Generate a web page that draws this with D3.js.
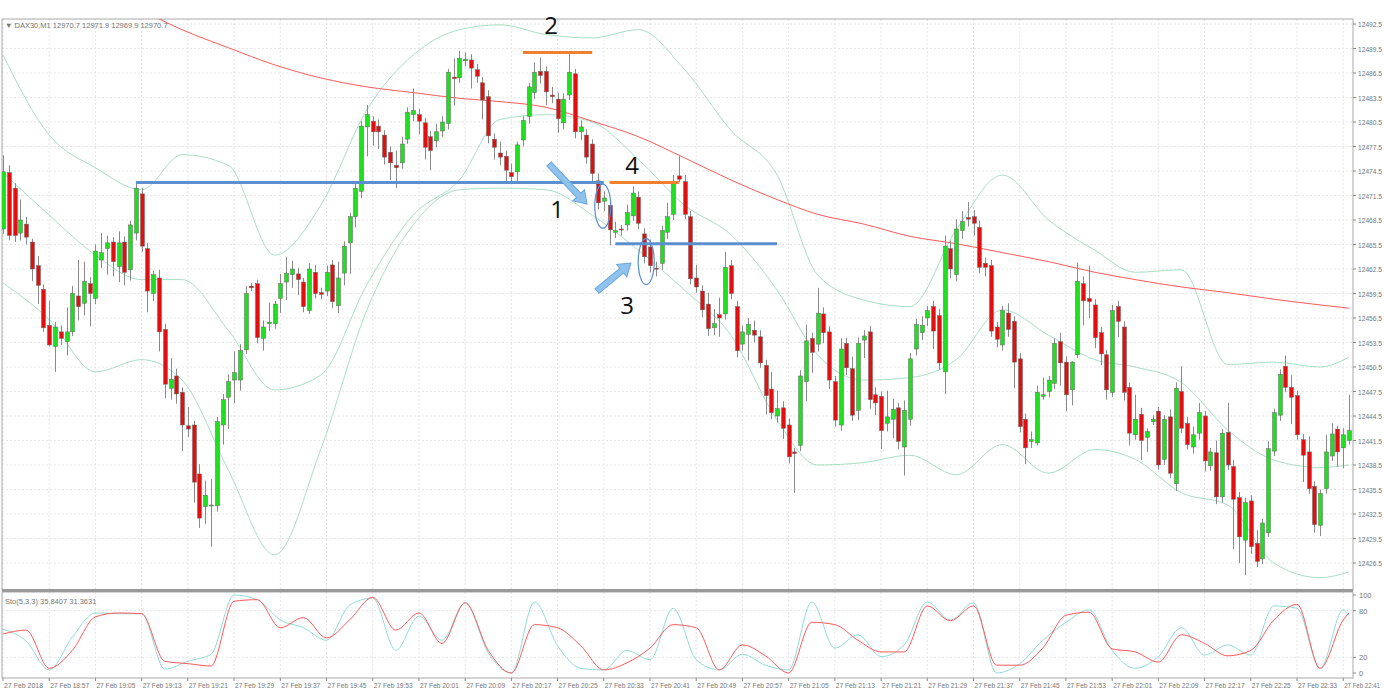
<!DOCTYPE html>
<html><head><meta charset="utf-8">
<script src="https://cdn.jsdelivr.net/npm/d3@7"></script>
<style>
body{margin:0;background:#fff;font-family:"Liberation Sans",Arial,sans-serif;}
.lbl{font-size:7.5px;fill:#777;font-family:"Liberation Sans",Arial,sans-serif;}
.note{font-family:"Open Sans",Calibri,sans-serif;font-size:24px;fill:#111;}
</style></head><body>
<svg id="c" width="1384" height="694"></svg>
<script>
// one-minute candles, 18:49 .. 22:42, [open, high, low, close]
const ohlc = [
[12467.4,12476.4,12466.8,12474.4],[12474.3,12475.2,12466.0,12466.6],[12472.4,12473.0,12465.8,12466.6],[12466.9,12471.0,12466.0,12468.5],
[12468.0,12468.9,12465.5,12466.4],[12465.8,12466.2,12461.0,12462.5],[12462.9,12464.1,12458.2,12460.5],[12460.0,12460.6,12454.8,12455.3],
[12455.6,12458.6,12453.0,12453.2],[12453.0,12456.0,12449.9,12455.4],[12454.8,12455.6,12453.2,12454.0],[12453.6,12457.8,12451.9,12454.8],
[12454.8,12460.4,12454.3,12459.5],[12459.2,12463.6,12456.2,12457.9],[12458.3,12463.4,12456.8,12461.0],[12460.7,12461.5,12455.5,12459.5],
[12458.9,12465.5,12458.2,12464.7],[12463.6,12466.9,12462.6,12464.5],[12465.0,12466.6,12461.8,12465.7],[12465.8,12466.4,12461.6,12463.4],
[12462.8,12467.1,12460.9,12465.7],[12465.8,12466.5,12460.5,12462.1],[12462.4,12468.4,12461.1,12467.9],[12466.9,12473.1,12466.0,12472.4],
[12471.7,12472.4,12464.6,12465.3],[12465.0,12465.7,12457.2,12459.8],[12459.5,12462.3,12458.6,12461.8],[12461.4,12462.4,12452.4,12454.8],
[12455.1,12455.8,12446.7,12448.4],[12447.9,12451.6,12446.5,12449.0],[12449.4,12450.3,12446.0,12447.2],[12447.4,12448.0,12440.2,12443.4],
[12443.3,12445.6,12441.9,12442.9],[12443.4,12443.9,12433.9,12436.4],[12437.4,12438.6,12430.8,12432.0],[12433.4,12436.6,12431.3,12434.8],
[12433.6,12436.8,12428.5,12433.6],[12433.5,12444.4,12432.8,12443.8],[12443.4,12447.2,12441.0,12446.5],[12446.8,12449.6,12442.9,12448.7],
[12448.9,12452.4,12446.1,12449.8],[12448.9,12453.3,12447.6,12452.5],[12452.6,12460.4,12452.1,12459.5],[12460.4,12460.8,12459.8,12460.2],
[12460.7,12461.2,12453.4,12454.1],[12454.0,12456.2,12452.5,12455.4],[12455.8,12458.4,12454.9,12456.0],[12455.8,12458.6,12455.2,12458.2],
[12458.9,12461.9,12457.1,12460.7],[12460.9,12464.0,12458.7,12462.0],[12461.8,12463.5,12460.2,12462.5],[12461.9,12462.6,12459.3,12461.2],
[12460.9,12461.4,12457.2,12457.9],[12457.4,12463.2,12457.0,12462.5],[12462.1,12463.0,12458.9,12459.5],[12459.6,12460.2,12458.8,12459.4],
[12459.8,12462.9,12459.2,12462.1],[12463.0,12463.6,12457.7,12458.5],[12458.0,12463.4,12457.1,12461.4],[12462.0,12465.9,12460.5,12465.3],
[12465.7,12469.4,12461.9,12468.9],[12468.9,12473.0,12467.6,12472.4],[12472.0,12480.6,12471.2,12480.0],[12479.9,12482.6,12476.3,12481.4],
[12480.6,12481.2,12477.6,12479.3],[12480.0,12480.8,12477.2,12479.3],[12478.9,12479.5,12475.3,12476.2],[12476.8,12477.5,12473.4,12475.5],
[12475.2,12477.0,12472.4,12474.9],[12475.5,12478.7,12474.8,12477.8],[12478.4,12482.3,12477.8,12481.7],[12481.4,12484.6,12480.6,12481.9],
[12481.4,12482.1,12479.0,12480.6],[12480.4,12481.0,12475.9,12477.4],[12478.7,12479.4,12474.6,12477.0],[12478.2,12480.3,12477.4,12479.3],
[12479.4,12481.2,12478.7,12480.5],[12480.3,12487.0,12479.6,12486.6],[12486.0,12488.3,12482.5,12485.8],[12485.9,12489.2,12485.3,12488.3],
[12488.0,12489.0,12487.3,12488.2],[12488.1,12488.8,12484.6,12487.1],[12486.9,12487.6,12485.3,12486.1],[12485.3,12486.0,12480.8,12483.2],
[12483.6,12484.4,12477.9,12478.8],[12478.4,12479.1,12475.9,12477.4],[12476.7,12478.1,12475.2,12476.2],[12476.3,12477.0,12473.0,12474.6],
[12474.3,12475.4,12473.0,12473.8],[12474.4,12478.1,12473.2,12477.7],[12478.3,12481.2,12477.5,12480.7],[12481.2,12485.3,12480.3,12484.8],
[12484.1,12487.8,12483.3,12486.6],[12486.7,12488.4,12485.2,12486.2],[12486.7,12487.3,12482.6,12484.2],[12483.8,12484.8,12482.8,12483.6],
[12483.3,12484.1,12479.2,12480.9],[12480.4,12484.0,12479.6,12483.3],[12483.8,12489.1,12483.2,12486.6],[12486.4,12487.0,12478.5,12479.3],
[12479.3,12480.7,12478.3,12479.9],[12478.9,12479.6,12475.4,12476.2],[12477.8,12478.4,12473.0,12474.2],[12473.3,12474.2,12469.8,12470.6],
[12470.8,12472.0,12469.6,12471.2],[12470.3,12471.0,12465.4,12467.3],[12467.0,12468.3,12466.3,12467.2],[12467.4,12467.9,12466.6,12467.3],
[12467.9,12470.4,12467.2,12469.4],[12469.0,12472.6,12468.4,12471.8],[12471.3,12472.0,12467.4,12468.1],[12466.8,12467.5,12463.2,12464.0],
[12465.2,12466.1,12462.1,12462.9],[12462.6,12463.4,12461.6,12462.5],[12463.2,12467.8,12462.4,12467.2],[12467.0,12470.6,12466.2,12468.9],
[12469.2,12474.0,12468.5,12473.2],[12473.9,12476.3,12473.1,12473.5],[12473.2,12474.0,12468.6,12469.2],[12468.9,12469.6,12460.6,12461.3],
[12461.4,12463.0,12459.6,12460.3],[12459.8,12460.5,12456.6,12457.5],[12458.2,12459.6,12454.3,12455.2],[12455.3,12457.6,12454.4,12455.8],
[12456.9,12459.0,12454.2,12456.5],[12457.0,12464.6,12456.3,12462.7],[12462.9,12463.6,12458.8,12459.5],[12457.9,12458.6,12451.7,12452.5],
[12453.3,12455.6,12452.5,12454.8],[12454.5,12456.5,12451.3,12455.7],[12455.0,12456.2,12453.5,12454.4],[12454.2,12455.0,12450.4,12451.0],
[12450.7,12451.4,12444.7,12447.0],[12447.8,12449.9,12444.1,12444.9],[12444.5,12447.6,12443.7,12445.4],[12445.5,12446.3,12441.7,12443.0],
[12443.4,12444.2,12438.7,12439.5],[12440.1,12440.6,12435.1,12439.9],[12440.9,12450.1,12440.2,12449.4],[12448.7,12455.7,12446.3,12453.7],
[12454.0,12454.7,12449.8,12452.3],[12453.3,12460.2,12452.4,12457.1],[12457.0,12457.8,12453.4,12454.7],[12454.8,12455.5,12447.8,12448.9],
[12448.7,12449.4,12443.2,12444.0],[12443.4,12454.0,12442.7,12452.7],[12453.4,12454.1,12449.5,12450.4],[12450.3,12451.8,12443.9,12444.6],
[12445.2,12454.1,12444.0,12453.4],[12453.8,12455.0,12451.6,12454.3],[12454.8,12455.5,12445.4,12446.5],[12447.1,12448.0,12444.6,12446.1],
[12446.9,12447.5,12440.5,12442.7],[12443.6,12447.6,12442.6,12444.4],[12444.1,12446.6,12441.8,12445.3],[12445.5,12446.1,12440.4,12441.4],
[12440.7,12446.4,12437.2,12445.2],[12444.1,12452.2,12443.3,12451.5],[12452.7,12456.4,12451.9,12455.7],[12454.7,12456.7,12453.8,12455.6],
[12456.5,12458.0,12455.5,12457.4],[12457.9,12458.6,12452.7,12454.9],[12456.8,12457.6,12450.2,12451.0],[12449.9,12466.6,12447.2,12465.3],
[12465.0,12466.0,12461.4,12462.5],[12461.8,12468.6,12461.0,12467.4],[12467.2,12469.6,12466.2,12468.3],[12468.8,12470.7,12467.7,12468.6],
[12468.9,12469.7,12466.6,12468.1],[12467.6,12468.4,12462.0,12462.7],[12463.2,12463.9,12461.6,12462.7],[12462.9,12463.6,12454.2,12454.9],
[12455.4,12456.0,12452.9,12453.9],[12453.2,12458.0,12452.5,12457.4],[12457.1,12458.3,12454.2,12455.1],[12456.1,12456.7,12447.9,12451.1],
[12451.5,12452.2,12442.5,12443.2],[12444.1,12444.8,12438.6,12440.6],[12441.4,12442.6,12440.6,12441.6],[12441.2,12448.2,12440.9,12447.4],
[12446.9,12449.2,12446.5,12447.1],[12447.5,12449.4,12446.8,12448.9],[12448.5,12454.0,12447.8,12453.4],[12453.6,12454.7,12448.2,12451.0],
[12451.1,12451.8,12445.1,12447.1],[12447.7,12451.2,12445.8,12451.1],[12452.0,12463.3,12451.6,12461.0],[12460.7,12461.6,12455.6,12458.6],
[12458.9,12462.9,12456.5,12458.5],[12458.1,12458.8,12452.8,12454.1],[12454.7,12455.4,12450.7,12452.1],[12452.0,12452.6,12446.5,12447.7],
[12447.4,12458.1,12446.8,12457.4],[12457.9,12458.6,12454.2,12456.1],[12455.4,12456.1,12446.4,12447.4],[12448.0,12448.6,12440.9,12442.4],
[12442.2,12447.1,12441.6,12444.1],[12444.7,12445.5,12439.1,12441.5],[12441.9,12443.0,12440.1,12442.6],[12443.8,12444.6,12443.4,12444.1],
[12445.1,12445.6,12437.9,12438.5],[12439.2,12444.6,12438.5,12444.1],[12444.4,12445.3,12436.9,12437.5],[12436.2,12448.6,12435.3,12447.9],
[12447.5,12450.6,12442.4,12443.0],[12443.6,12444.4,12440.4,12441.0],[12440.7,12443.2,12439.9,12442.2],[12442.4,12446.1,12441.6,12444.9],
[12444.5,12445.1,12437.7,12439.0],[12438.4,12440.6,12437.8,12440.1],[12440.0,12441.5,12433.7,12434.6],[12434.6,12442.9,12433.9,12442.4],
[12442.5,12446.1,12437.9,12438.5],[12438.3,12439.1,12428.2,12434.3],[12434.5,12435.2,12426.5,12429.7],[12429.3,12434.5,12425.0,12433.9],
[12434.1,12434.8,12427.6,12428.5],[12428.9,12430.5,12426.0,12426.7],[12427.0,12431.9,12426.4,12431.4],[12430.2,12441.4,12429.7,12440.5],
[12440.2,12445.4,12439.6,12444.9],[12444.6,12450.2,12443.9,12449.6],[12450.6,12451.9,12447.4,12448.0],[12448.0,12449.5,12443.5,12446.8],
[12447.0,12447.6,12441.6,12442.2],[12441.6,12442.3,12436.4,12439.7],[12440.1,12442.0,12435.0,12435.6],[12435.9,12436.5,12430.2,12431.2],
[12431.1,12435.5,12429.8,12435.0],[12435.6,12442.2,12435.0,12440.1],[12439.6,12443.6,12439.0,12442.3],[12442.9,12443.3,12438.3,12440.1],
[12440.6,12443.0,12438.1,12442.2],[12441.5,12447.1,12441.0,12442.7]
];

// indicator samples (candle index of each sample)
const bandIdx = [0,8,16,24,31,39,47,55,63,71,79,86,94,102,110,118,126,134,141,149,157,165,173,181,189,196,204,212,220,228,233];
const bbUpper = [12488.7,12478.9,12474.9,12472.2,12476.5,12475.2,12464.2,12470.3,12482.0,12488.7,12491.8,12492.4,12491.2,12490.8,12491.8,12486.9,12479.5,12474.0,12461.8,12458.7,12457.9,12467.3,12474.0,12468.5,12464.8,12462.1,12462.4,12450.8,12451.1,12450.5,12451.7];
const bbMiddle = [12474.3,12469.1,12464.2,12461.2,12461.2,12455.0,12447.7,12449.5,12460.6,12469.1,12473.4,12480.8,12481.4,12480.5,12475.9,12470.3,12466.7,12459.9,12452.0,12448.9,12449.2,12451.4,12457.5,12454.4,12451.4,12450.5,12448.6,12442.8,12439.1,12438.2,12438.5];
const bbLower = [12460.8,12456.3,12449.9,12451.4,12448.9,12437.9,12427.5,12440.4,12457.5,12467.9,12472.2,12472.4,12472.2,12469.1,12464.8,12459.9,12454.4,12444.0,12438.5,12438.8,12439.7,12437.3,12441.0,12437.5,12440.4,12439.2,12435.1,12433.6,12426.5,12424.7,12425.4];
const maSlow = [null,null,null,12494.2,12491.8,12489.6,12487.5,12485.9,12484.8,12484.1,12483.4,12483.0,12482.3,12480.6,12478.7,12476.1,12473.4,12471.0,12469.2,12468.0,12466.5,12465.6,12464.5,12463.4,12462.1,12461.2,12460.3,12459.6,12458.8,12458.1,12457.7];

// stochastic samples, every 4 candles (last one at the final candle)
const stoIdx = d3.range(0, 233, 4).concat([233]);
const stoK = [56,41,4,46,77,76,76,5,15,24,100,94,68,58,42,87,96,29,73,42,90,26,0,91,35,6,4,29,17,83,17,4,24,10,4,91,32,49,21,36,91,68,90,0,12,42,65,81,29,6,21,58,23,36,23,86,83,6,81,74];
const stoD = [50,55,6,29,72,77,76,15,12,9,92,94,58,71,45,68,97,55,77,38,90,29,0,62,58,35,4,13,32,62,58,4,36,22,0,65,62,42,27,27,86,67,86,10,10,32,74,78,31,27,14,49,38,22,29,68,88,6,68,77];

const priceTicks = d3.range(12492.5, 12426, -3);
const stoTicks = [100, 80, 20, 0];
const startMinute = 18 * 60 + 49;

const svg = d3.select('#c');
const L = 2, R = 1353, T = 19, B = 590, sT = 592, sB = 678;

const x = d3.scaleLinear().domain([0, ohlc.length - 1]).range([3, 1349]);
const y = d3.scaleLinear().domain([12492.5, 12426.5]).range([24, 563]);
const ys = d3.scaleLinear().domain([0, 100]).range([673, 595]);

svg.append('clipPath').attr('id', 'mainClip').append('rect')
  .attr('x', L).attr('y', T).attr('width', R - L).attr('height', B - T);
svg.append('clipPath').attr('id', 'stoClip').append('rect')
  .attr('x', L).attr('y', sT).attr('width', R - L).attr('height', sB - sT);

// grid
const timeIdx = d3.range(0, ohlc.length, 8);
const grid = svg.append('g').attr('stroke', '#e6e6e6').attr('stroke-dasharray', '2,2');
priceTicks.forEach(p => grid.append('line').attr('x1', L).attr('x2', R).attr('y1', y(p)).attr('y2', y(p)));
[80, 20].forEach(v => grid.append('line').attr('x1', L).attr('x2', R).attr('y1', ys(v)).attr('y2', ys(v)));
timeIdx.forEach(i => {
  grid.append('line').attr('x1', x(i)).attr('x2', x(i)).attr('y1', T).attr('y2', B);
  grid.append('line').attr('x1', x(i)).attr('x2', x(i)).attr('y1', sT).attr('y2', sB);
});

// frames
svg.append('rect').attr('x', L).attr('y', T).attr('width', R - L).attr('height', B - T)
  .attr('fill', 'none').attr('stroke', '#aaa');
svg.append('rect').attr('x', L).attr('y', sT).attr('width', R - L).attr('height', sB - sT)
  .attr('fill', 'none').attr('stroke', '#aaa');
svg.append('line').attr('x1', L).attr('x2', R).attr('y1', 590.5).attr('y2', 590.5).attr('stroke', '#999').attr('stroke-width', 3);

const main = svg.append('g').attr('clip-path', 'url(#mainClip)');

// bollinger + moving average
const bandLine = arr => d3.line().defined(d => d != null)
  .x((d, k) => x(bandIdx[k])).y(d => y(d)).curve(d3.curveMonotoneX)(arr);
[bbUpper, bbMiddle, bbLower].forEach(a =>
  main.append('path').attr('d', bandLine(a)).attr('fill', 'none').attr('stroke', '#a9dfc4').attr('stroke-width', 1));
main.append('path').attr('d', bandLine(maSlow)).attr('fill', 'none').attr('stroke', '#ff5a5a').attr('stroke-width', 1);

// candles
const cg = main.selectAll('g.candle').data(ohlc).enter().append('g');
cg.append('line')
  .attr('x1', (d, i) => Math.round(x(i)) + 0.5).attr('x2', (d, i) => Math.round(x(i)) + 0.5)
  .attr('y1', d => y(d[1])).attr('y2', d => y(d[2]))
  .attr('stroke', '#8a8a8a');
cg.append('rect')
  .attr('x', (d, i) => Math.round(x(i)) - 1.5)
  .attr('y', d => y(Math.max(d[0], d[3])))
  .attr('width', 4)
  .attr('height', d => Math.max(1, Math.abs(y(d[0]) - y(d[3]))))
  .attr('fill', d => d[3] >= d[0] ? '#1ee01e' : '#e01010')
  .attr('stroke', '#666').attr('stroke-width', 0.5);

// annotations
const hl = (i0, i1, p, c) => main.append('line').attr('x1', x(i0)).attr('x2', x(i1))
  .attr('y1', y(p)).attr('y2', y(p)).attr('stroke', c).attr('stroke-width', 3);
hl(23, 104, 12473.1, '#5b8fd0');
hl(90, 102, 12489.0, '#f08030');
hl(105, 117, 12473.1, '#f08030');
hl(106, 134, 12465.6, '#5b8fd0');
main.append('ellipse').attr('cx', x(104) - 1).attr('cy', y(12470.2)).attr('rx', 8).attr('ry', 22)
  .attr('fill', 'none').attr('stroke', '#5b8fd0').attr('stroke-width', 1.2);
main.append('ellipse').attr('cx', x(111) + 2).attr('cy', y(12463.4)).attr('rx', 8).attr('ry', 23)
  .attr('fill', 'none').attr('stroke', '#5b8fd0').attr('stroke-width', 1.2);

function arrow(x1, y1, x2, y2) {
  const a = Math.atan2(y2 - y1, x2 - x1), len = Math.hypot(x2 - x1, y2 - y1);
  const g = svg.append('g').attr('transform', `translate(${x1},${y1}) rotate(${a * 180 / Math.PI})`);
  g.append('path')
    .attr('d', `M0,-3 L${len - 12},-3 L${len - 12},-8 L${len},0 L${len - 12},8 L${len - 12},3 L0,3 Z`)
    .attr('fill', '#8fc3ee').attr('stroke', '#6aa6db').attr('stroke-width', 1);
}
arrow(549, 164, 587, 204);
arrow(597, 291, 631, 263);

[['2', 551, 34], ['1', 557, 218], ['4', 632, 174], ['3', 627, 314]].forEach(t =>
  svg.append('text').attr('class', 'note').attr('x', t[1]).attr('y', t[2]).attr('text-anchor', 'middle').text(t[0]));

// stochastic
const sto = svg.append('g').attr('clip-path', 'url(#stoClip)');
const stoLine = arr => d3.line().x((d, k) => x(stoIdx[k])).y(d => ys(d)).curve(d3.curveMonotoneX)(arr);
sto.append('path').attr('d', stoLine(stoK)).attr('fill', 'none').attr('stroke', '#8fdcd8').attr('stroke-width', 1);
sto.append('path').attr('d', stoLine(stoD)).attr('fill', 'none').attr('stroke', '#ff5a5a').attr('stroke-width', 1);

// right axes
const ax = svg.append('g').attr('transform', `translate(${R},0)`);
priceTicks.forEach(p => {
  ax.append('line').attr('x1', 0).attr('x2', 3).attr('y1', y(p)).attr('y2', y(p)).attr('stroke', '#888');
  ax.append('text').attr('class', 'lbl').attr('x', 5).attr('y', y(p) + 3)
    .attr('textLength', 24).attr('lengthAdjust', 'spacingAndGlyphs').text(p.toFixed(1));
});
stoTicks.forEach(v => {
  ax.append('line').attr('x1', 0).attr('x2', 3).attr('y1', ys(v)).attr('y2', ys(v)).attr('stroke', '#888');
  ax.append('text').attr('class', 'lbl').attr('x', 6).attr('y', ys(v) + 3).text(v);
});

// time axis
const pad = n => String(n).padStart(2, '0');
timeIdx.forEach((i, k) => {
  const m = startMinute + i;
  const label = k === 0 ? '27 Feb 2018' : `27 Feb ${pad(Math.floor(m / 60))}:${pad(m % 60)}`;
  svg.append('line').attr('x1', x(i)).attr('x2', x(i)).attr('y1', sB).attr('y2', sB + 3).attr('stroke', '#888');
  svg.append('text').attr('class', 'lbl').attr('x', x(i) + 1).attr('y', 688)
    .attr('textLength', Math.min(39, 1380 - x(i) - 1)).attr('lengthAdjust', 'spacingAndGlyphs').text(label);
});

// headers
svg.append('text').attr('class', 'lbl').attr('x', 5).attr('y', 28).text('▼ DAX30,M1  12970.7 12971.9 12969.9 12970.7');
svg.append('text').attr('class', 'lbl').attr('x', 5).attr('y', 604).text('Sto(5,3,3) 35.8407 31.3631');
</script></body></html>
